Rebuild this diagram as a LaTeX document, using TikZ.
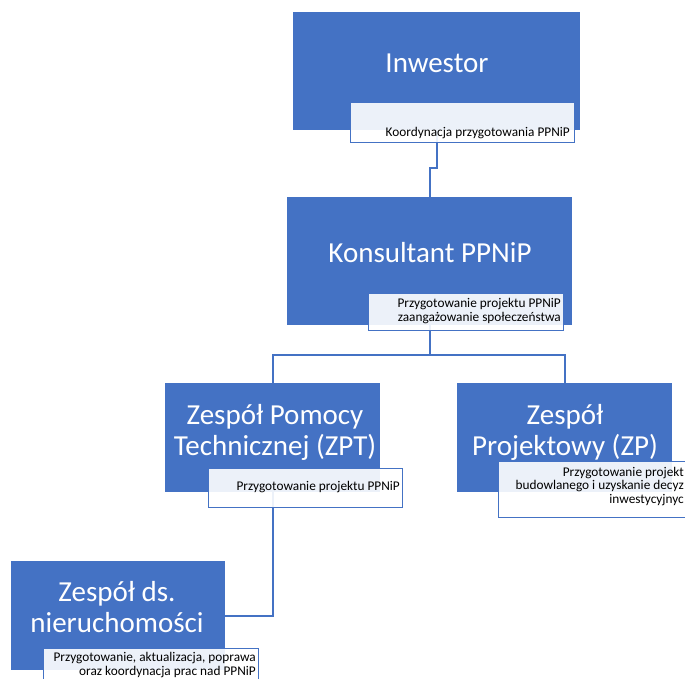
\documentclass[tikz,border=0pt]{standalone}
\usepackage{fontspec}
\setmainfont{Carlito}
\definecolor{accent}{HTML}{4472C4}
\tikzset{
    unit/.style={fill=accent, inner sep=0pt, anchor=north west},
    note/.style={draw=accent, line width=1.2pt, fill=white, fill opacity=0.9, inner sep=0pt, anchor=north west},
    title/.style={text=white, font=\fontsize{29}{31}\selectfont, align=center, inner sep=0pt, anchor=base},
    duty/.style={font=\fontsize{13.3}{13.4}\selectfont, align=right, inner sep=0pt, anchor=base east},
    link/.style={draw=accent, line width=2pt}
}
\begin{document}
\begin{tikzpicture}[x=1pt,y=-1pt]
        \useasboundingbox (0,0) rectangle (685,679);
        \clip (0,0) rectangle (685,679);

        \foreach \name/\x/\y/\w/\h in {inw/293/12/287/118, kon/287/197/285/128, zpt/165/383/215/109, zp/457/383/215/109, nier/11/561/214/109}{
            \node[unit, minimum width=\w, minimum height=\h] (\name) at (\x,\y) {};
        }

        \draw[link] (inw.south) -- ++(0,38) -| (kon.north);
        \draw[link] (kon.south) -- ++(0,30) -| (zpt.north);
        \draw[link] (kon.south) -- ++(0,30) -| (zp.north);
        \draw[link] (zpt.south) |- (nier.east);

        \foreach \name/\x/\y/\w/\h in {inwN/350/102/224/40, konN/368/293/195/37, zptN/208/468/194/39, zpN/498/461/199/56, nierN/43/648/215/45}{
            \node[note, minimum width=\w, minimum height=\h] (\name) at (\x,\y) {};
        }

        \node[title] (inwT) at (437,73) {Inwestor};
        \node[title] (konT) at (430,262) {Konsultant PPNiP};
        \node[title] (zptT) at (275,455) {Zespół Pomocy\\Technicznej (ZPT)};
        \node[title] (zpT) at (565,455) {Zespół\\Projektowy (ZP)};
        \node[title] (nierT) at (117,632) {Zespół ds.\\nieruchomości};

        \node[duty] (inwD) at (570,137) {Koordynacja przygotowania PPNiP};
        \node[duty] (konD) at (561,321) {Przygotowanie projektu PPNiP\\zaangażowanie społeczeństwa};
        \node[duty] (zptD) at (400,490) {Przygotowanie projektu PPNiP};
        \node[duty] (zpD) at (684,503) {Przygotowanie projekt\\budowlanego i uzyskanie decyz\\inwestycyjnyc};
        \node[duty] (nierD) at (256,675) {Przygotowanie, aktualizacja, poprawa\\oraz koordynacja prac nad PPNiP};
    \end{tikzpicture}
\end{document}
